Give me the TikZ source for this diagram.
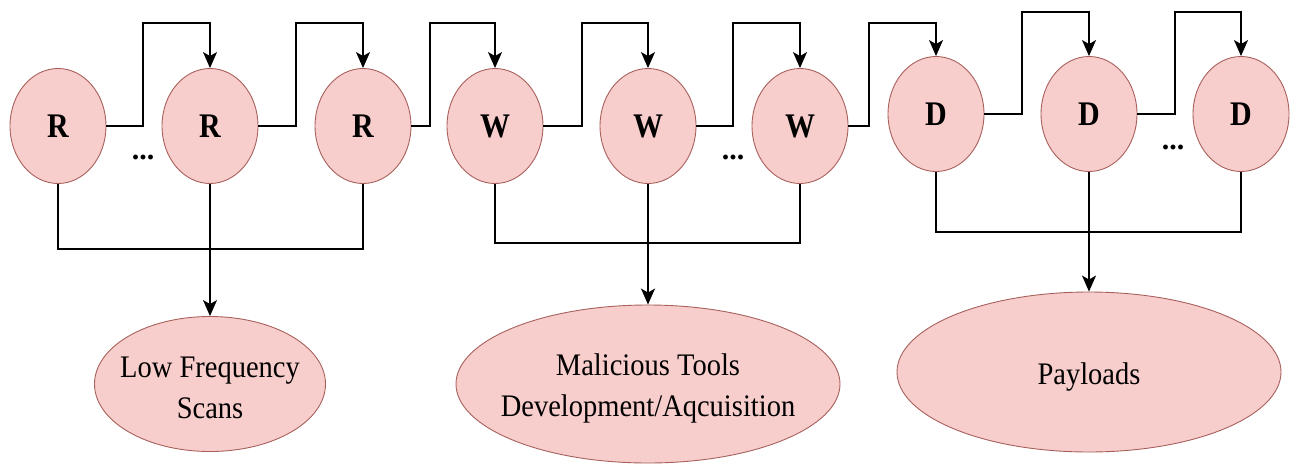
\documentclass[tikz,border=0pt]{standalone}
\usepackage{fontspec}
\setmainfont{Liberation Serif}
\usetikzlibrary{shapes.geometric,arrows.meta}
\definecolor{pinkfill}{HTML}{F8CECC}
\definecolor{pinkdraw}{HTML}{A8605C}
\begin{document}
\begin{tikzpicture}[x=1pt,y=-1pt,
  st/.style={ellipse, draw=pinkdraw, fill=pinkfill, line width=0.9pt, inner sep=0pt,
    minimum width=96pt, minimum height=115pt, font=\fontsize{30}{32}\selectfont\bfseries},
  res/.style={ellipse, draw=pinkdraw, fill=pinkfill, line width=0.9pt, inner sep=0pt},
  restext/.style={inner sep=0pt, align=center, font=\fontsize{28.5}{41}\selectfont},
  link/.style={draw=black, line width=1.5pt},
  arr/.style={link, -{Stealth[length=16pt,width=14pt,inset=4pt]}},
  dots/.style={inner sep=0pt, font=\fontsize{30}{30}\selectfont\bfseries}]
\useasboundingbox (0,0) rectangle (1290,464);

% stage nodes
\node[st] (r1) at (58,126) {\scalebox{1}[1.15]{R}};
\node[st] (r2) at (210,126) {\scalebox{1}[1.15]{R}};
\node[st] (r3) at (363,126) {\scalebox{1}[1.15]{R}};
\node[st] (w1) at (495,126) {\scalebox{1}[1.15]{W}};
\node[st] (w2) at (648,126) {\scalebox{1}[1.15]{W}};
\node[st] (w3) at (800,126) {\scalebox{1}[1.15]{W}};
\node[st] (d1) at (936,114) {\scalebox{1}[1.15]{D}};
\node[st] (d2) at (1089,114) {\scalebox{1}[1.15]{D}};
\node[st] (d3) at (1241,114) {\scalebox{1}[1.15]{D}};

% ellipsis
\node[dots] (e1) at (143,157) {...};
\node[dots] (e2) at (733,157) {...};
\node[dots] (e3) at (1173,147) {...};

% result nodes
\node[res, minimum width=231pt, minimum height=135pt] (lfs) at (210,384) {};
\node[restext] (lfst) at (210,388) {\scalebox{1}[1.1]{Low Frequency}\\\scalebox{1}[1.1]{Scans}};
\node[res, minimum width=384pt, minimum height=158pt] (mt) at (648,384) {};
\node[restext] (mtt) at (648,388) {\scalebox{1}[1.1]{Malicious Tools}\\\scalebox{1}[1.1]{Development/Aqcuisition}};
\node[res, minimum width=384pt, minimum height=160pt] (pl) at (1089,372) {};
\node[restext] (plt) at (1089,377) {\scalebox{1}[1.1]{Payloads}};

% chain connectors
\draw[arr] (r1.east) -| (143,23) -| (r2.north);
\draw[arr] (r2.east) -| (296,23) -| (r3.north);
\draw[arr] (r3.east) -| (430,23) -| (w1.north);
\draw[arr] (w1.east) -| (582,23) -| (w2.north);
\draw[arr] (w2.east) -| (733,23) -| (w3.north);
\draw[arr] (w3.east) -| (869,23) -| (d1.north);
\draw[arr] (d1.east) -| (1022,12) -| (d2.north);
\draw[arr] (d2.east) -| (1175,12) -| (d3.north);

% group connectors
\draw[link] (r1.south) |- (363,249) -- (r3.south);
\draw[arr] (r2.south) -- (lfs.north);
\draw[link] (w1.south) |- (800,243) -- (w3.south);
\draw[arr] (w2.south) -- (mt.north);
\draw[link] (d1.south) |- (1241,232) -- (d3.south);
\draw[arr] (d2.south) -- (pl.north);
\end{tikzpicture}
\end{document}
